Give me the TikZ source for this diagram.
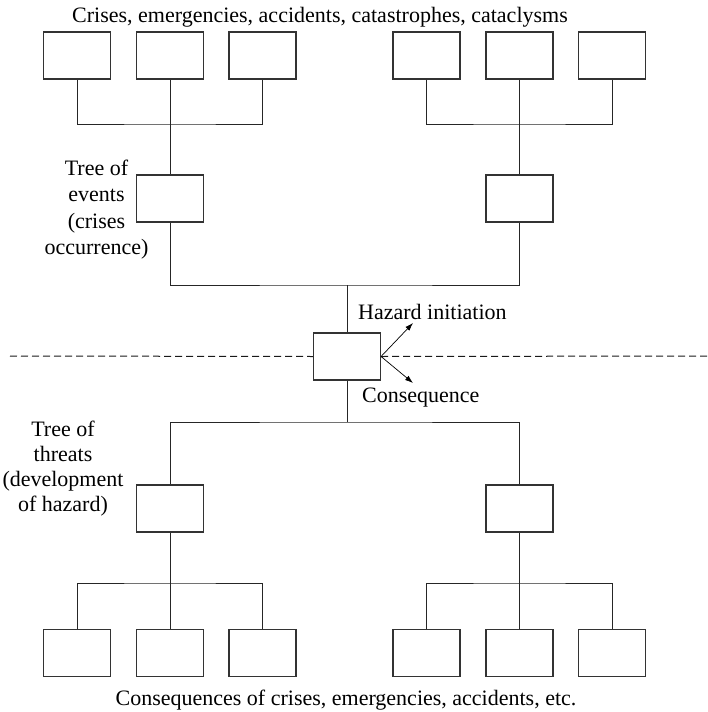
\documentclass[tikz,border=0pt]{standalone}
\usepackage{fontspec}
\setmainfont{Liberation Serif}
\usetikzlibrary{arrows.meta}
\begin{document}
\begin{tikzpicture}[x=1pt,y=-1pt,
  box/.style={draw=black!80,line width=1.1pt,fill=white,minimum width=67pt,minimum height=47pt,inner sep=0pt},
  conn/.style={draw=black!85,line width=1pt},
  lbl/.style={inner sep=0pt,font=\fontsize{22}{26}\selectfont},
  divider/.style={draw=black!90,line width=1pt,dash pattern=on 7pt off 4pt},
  arr/.style={draw=black,line width=0.7pt,-{Latex[length=8pt,width=5.5pt]}}]
\useasboundingbox (0,0) rectangle (707,712);
% dashed divider ends
\coordinate (dl) at (10,356);
\coordinate (dr) at (707,356);
% top boxes
\node[box] (t1) at (77,55.5) {};
\node[box] (t2) at (170,55.5) {};
\node[box] (t3) at (262.5,55.5) {};
\node[box] (t4) at (426.5,55.5) {};
\node[box] (t5) at (519.5,55.5) {};
\node[box] (t6) at (612,55.5) {};
% middle upper boxes
\node[box] (ml) at (170,198.5) {};
\node[box] (mr) at (519.5,198.5) {};
% central box
\node[box] (c) at (347,356.5) {};
% middle lower boxes
\node[box] (ll) at (170,508.5) {};
\node[box] (lr) at (519.5,508.5) {};
% bottom boxes
\node[box] (b1) at (77,653) {};
\node[box] (b2) at (170,653) {};
\node[box] (b3) at (262.5,653) {};
\node[box] (b4) at (426.5,653) {};
\node[box] (b5) at (519.5,653) {};
\node[box] (b6) at (612,653) {};
% junction coordinates
\coordinate (j1) at (170,124);
\coordinate (j2) at (519.5,124);
\coordinate (j3) at (347,285);
\coordinate (j4) at (347,422);
\coordinate (j5) at (170,583);
\coordinate (j6) at (519.5,583);
% connectors upper tree
\draw[conn] (t1.south) |- (j1) -| (t3.south);
\draw[conn] (t2.south) -- (ml.north);
\draw[conn] (t4.south) |- (j2) -| (t6.south);
\draw[conn] (t5.south) -- (mr.north);
\draw[conn] (ml.south) |- (j3) -| (mr.south);
\draw[conn] (j3) -- (c.north);
% connectors lower tree
\draw[conn] (c.south) -- (j4);
\draw[conn] (ll.north) |- (j4) -| (lr.north);
\draw[conn] (ll.south) -- (j5);
\draw[conn] (b1.north) |- (j5) -| (b3.north);
\draw[conn] (b2.north) -- (j5);
\draw[conn] (lr.south) -- (j6);
\draw[conn] (b4.north) |- (j6) -| (b6.north);
\draw[conn] (b5.north) -- (j6);
% dashed line
\draw[divider] (dl) -- (c.west);
\draw[divider] (c.east) -- (dr);
% arrows
\coordinate (ha) at (413,323);
\coordinate (ca) at (413,383);
\draw[arr] (c.east) -- (ha);
\draw[arr] (c.east) -- (ca);
% labels
\node[lbl,anchor=base] (title) at (320,23) {Crises, emergencies, accidents, catastrophes, cataclysms};
\node[lbl,anchor=base] (foot) at (346,705) {Consequences of crises, emergencies, accidents, etc.};
\node[lbl,anchor=base west] (hz) at (358,319) {Hazard initiation};
\node[lbl,anchor=base west] (cq) at (362,402) {Consequence};
\node[lbl,align=center,font=\fontsize{22}{26.5}\selectfont] (ev) at (96.5,209.5) {Tree of\\events\\(crises\\occurrence)};
\node[lbl,align=center,font=\fontsize{22}{25}\selectfont] (th) at (63,468.5) {Tree of\\threats\\(development\\of hazard)};
\end{tikzpicture}
\end{document}
